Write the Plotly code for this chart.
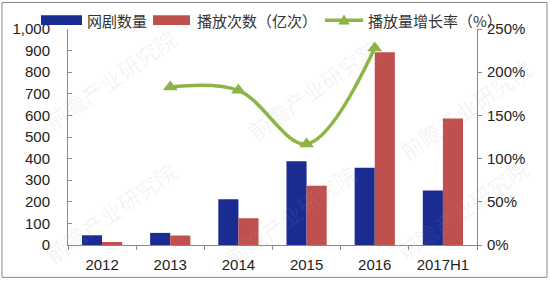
import plotly.graph_objects as go

categories = ["2012", "2013", "2014", "2015", "2016", "2017H1"]
dramas = [45, 56, 212, 388, 358, 252]
plays = [14, 44, 124, 274, 892, 586]
growth_cats = ["2013", "2014", "2015", "2016"]
growth = [1.83, 1.79, 1.17, 2.28]

left_ticks = [0, 100, 200, 300, 400, 500, 600, 700, 800, 900, 1000]
left_labels = ["0", "100", "200", "300", "400", "500", "600", "700", "800", "900", "1,000"]
right_ticks = [0, 0.5, 1.0, 1.5, 2.0, 2.5]
right_labels = ["0%", "50%", "100%", "150%", "200%", "250%"]

BLUE = "#1a2b92"
RED = "#c0504d"
GREEN = "#8db444"
FONT = "Liberation Sans, Arial, sans-serif"
CJK = "Noto Sans CJK SC, sans-serif"

L, R, T, B = 68, 73, 29, 36
W, H = 550, 285
PW, PH = W - L - R, H - T - B

def px(x):
    return (x - L) / PW

def py(y):
    return (H - B - y) / PH

fig = go.Figure()
fig.add_trace(go.Bar(x=categories, y=dramas, name="网剧数量", marker_color=BLUE,
                     marker_line_width=0, showlegend=False))
fig.add_trace(go.Bar(x=categories, y=plays, name="播放次数（亿次）", marker_color=RED,
                     marker_line_width=0, showlegend=False))
fig.add_trace(go.Scatter(x=growth_cats, y=growth, name="播放量增长率（%）", yaxis="y2",
                         mode="lines+markers", line=dict(color=GREEN, width=3.5, shape="spline", smoothing=1.0),
                         marker=dict(symbol="triangle-up", size=13, color=GREEN), showlegend=False))

shapes = []
annotations = []
# frame
shapes.append(dict(type="rect", xref="paper", yref="paper", x0=px(2), x1=px(547), y0=py(2), y1=py(282),
                   line=dict(color="#8a8a8a", width=1), fillcolor="rgba(0,0,0,0)", layer="below"))
# faint watermarks
for (cx, cy) in [(110, 80), (313, 90), (465, 110), (110, 215), (290, 218), (462, 212)]:
    annotations.append(dict(x=px(cx), y=py(cy), xref="paper", yref="paper", text="前瞻产业研究院",
                            showarrow=False, textangle=-35, xanchor="center", yanchor="middle",
                            font=dict(family=CJK, size=22, color="rgba(160,160,160,0.12)")))
# legend
shapes.append(dict(type="rect", xref="paper", yref="paper", x0=px(41), x1=px(82), y0=py(25), y1=py(15),
                   fillcolor=BLUE, line=dict(width=0)))
shapes.append(dict(type="rect", xref="paper", yref="paper", x0=px(153), x1=px(190), y0=py(25), y1=py(15),
                   fillcolor=RED, line=dict(width=0)))
shapes.append(dict(type="line", xref="paper", yref="paper", x0=px(325), x1=px(363), y0=py(20), y1=py(20),
                   line=dict(color=GREEN, width=3.5)))
tri = "M {a},{b} L {c},{d} L {e},{f} Z".format(a=px(339), b=py(24), c=px(349), d=py(24), e=px(344), f=py(15))
shapes.append(dict(type="path", xref="paper", yref="paper", path=tri, fillcolor=GREEN, line=dict(color=GREEN, width=1)))
for tx, txt in [(85, "网剧数量"), (195, "播放次数（亿次）"), (366, "播放量增长率（%）")]:
    annotations.append(dict(x=px(tx), y=py(20), xref="paper", yref="paper", text=txt, showarrow=False,
                            xanchor="left", yanchor="middle",
                            font=dict(family=CJK, size=15, color="#333333")))

fig.update_layout(
    width=W, height=H,
    margin=dict(l=L, r=R, t=T, b=B, pad=0),
    paper_bgcolor="white", plot_bgcolor="rgba(0,0,0,0)",
    barmode="group", bargap=0.41, bargroupgap=0,
    showlegend=False,
    font=dict(family=FONT, size=15, color="#222222"),
    xaxis=dict(type="category", showgrid=False, showline=True, linecolor="#8a8a8a", linewidth=1,
               ticks="outside", tickson="boundaries", ticklen=4, tickcolor="#8a8a8a",
               tickfont=dict(size=15), ticklabelstandoff=6),
    yaxis=dict(range=[0, 1000], tickvals=left_ticks, ticktext=left_labels, showgrid=False,
               showline=True, linecolor="#8a8a8a", linewidth=1, ticks="inside", ticklen=4,
               tickcolor="#8a8a8a", tickfont=dict(size=15), ticklabelstandoff=14, zeroline=False),
    yaxis2=dict(range=[0, 2.5], tickvals=right_ticks, ticktext=right_labels, overlaying="y", side="right",
                showgrid=False, showline=True, linecolor="#8a8a8a", linewidth=1, ticks="outside",
                ticklen=4, tickcolor="#8a8a8a", tickfont=dict(size=15), ticklabelstandoff=2, zeroline=False),
    shapes=shapes, annotations=annotations,
)

fig.write_html("out.html")
